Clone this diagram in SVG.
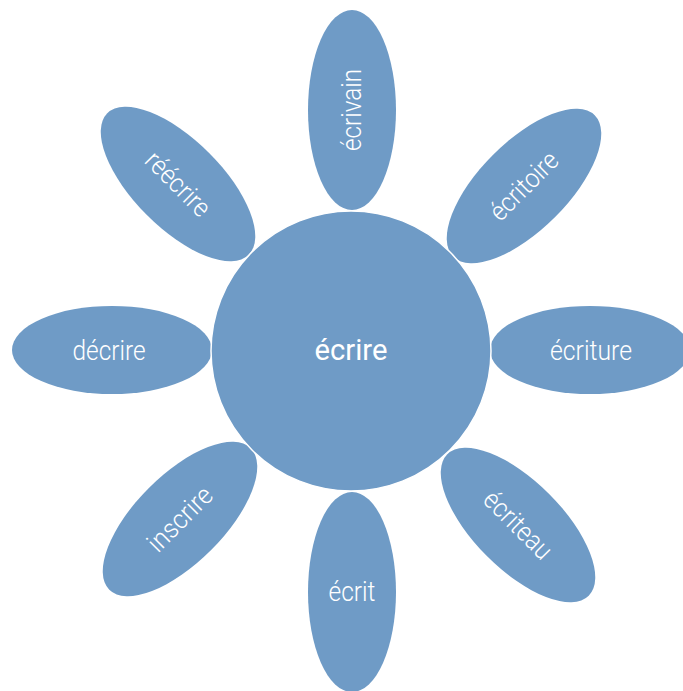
<svg xmlns="http://www.w3.org/2000/svg" width="683" height="691" viewBox="0 0 683 691">
  <style>
    .petal { fill: #6f9bc6; }
    .hub { fill: #6f9bc6; stroke: #ffffff; stroke-width: 1.5; }
    .lbl { fill: #ffffff; font-family: Roboto, "Liberation Sans", sans-serif; font-weight: 300; font-size: 27px; text-anchor: middle; }
    .main { fill: #ffffff; font-family: Roboto, "Liberation Sans", sans-serif; font-weight: 400; font-size: 30px; text-anchor: middle; }
  </style>
  <rect width="683" height="691" fill="#ffffff"/>
  <g id="connectors"/>
  <g id="n-ecrivain" transform="translate(352,110)">
    <ellipse class="petal" rx="44" ry="100"/>
    <text class="lbl" transform="rotate(-90)" x="0" y="9" textLength="82" lengthAdjust="spacingAndGlyphs">écrivain</text>
  </g>
  <g id="n-ecrit" transform="translate(352,592)">
    <ellipse class="petal" rx="44" ry="100"/>
    <text class="lbl" x="0" y="9" textLength="47" lengthAdjust="spacingAndGlyphs">écrit</text>
  </g>
  <g id="n-decrire" transform="translate(112,350)">
    <ellipse class="petal" rx="100" ry="44"/>
    <text class="lbl" x="-3" y="10" textLength="73" lengthAdjust="spacingAndGlyphs">décrire</text>
  </g>
  <g id="n-ecriture" transform="translate(590,350)">
    <ellipse class="petal" rx="100" ry="44"/>
    <text class="lbl" x="1" y="10" textLength="82" lengthAdjust="spacingAndGlyphs">écriture</text>
  </g>
  <g id="n-reecrire" transform="translate(178,184) rotate(45)">
    <ellipse class="petal" rx="100" ry="44"/>
    <text class="lbl" x="0" y="9" textLength="80" lengthAdjust="spacingAndGlyphs">réécrire</text>
  </g>
  <g id="n-ecritoire" transform="translate(524,186) rotate(-45)">
    <ellipse class="petal" rx="100" ry="44"/>
    <text class="lbl" x="0" y="9" textLength="85" lengthAdjust="spacingAndGlyphs">écritoire</text>
  </g>
  <g id="n-inscrire" transform="translate(180,519) rotate(-45)">
    <ellipse class="petal" rx="100" ry="44"/>
    <text class="lbl" x="0" y="9" textLength="80" lengthAdjust="spacingAndGlyphs">inscrire</text>
  </g>
  <g id="n-ecriteau" transform="translate(518,525) rotate(45)">
    <ellipse class="petal" rx="100" ry="44"/>
    <text class="lbl" x="0" y="9" textLength="85" lengthAdjust="spacingAndGlyphs">écriteau</text>
  </g>
  <g id="n-ecrire">
    <circle class="hub" cx="351" cy="351" r="140"/>
    <text class="main" x="351" y="360" textLength="73" lengthAdjust="spacingAndGlyphs">écrire</text>
  </g>
</svg>
